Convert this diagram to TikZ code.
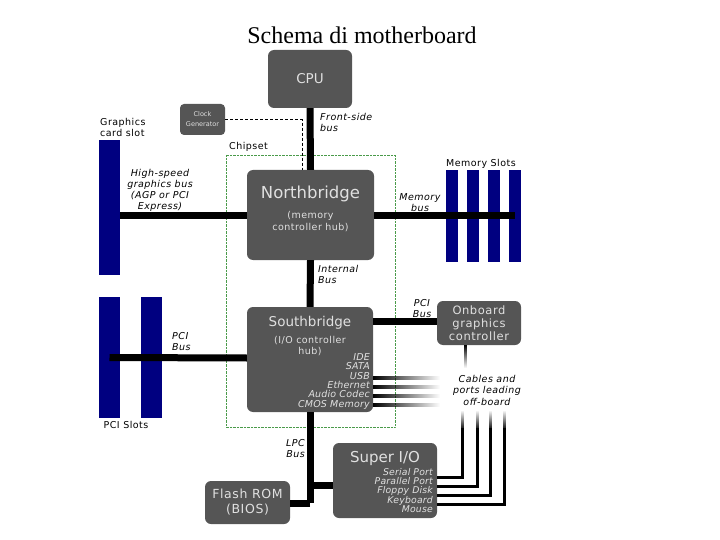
\documentclass[tikz,border=0pt]{standalone}
\usepackage{fontspec}
\setmainfont{DejaVu Sans}
\newfontfamily\titlefont{Liberation Serif}
\usetikzlibrary{fadings}
\definecolor{boxc}{HTML}{555555}
\definecolor{slotc}{HTML}{000080}
\definecolor{chipc}{HTML}{4A9A4A}
\newcommand{\lsp}{\addfontfeature{LetterSpace=5}}
\begin{document}
\begin{tikzpicture}[x=1pt,y=-1pt,
  box/.style={fill=boxc,rounded corners=6pt,draw=none},
  slot/.style={fill=slotc,draw=none},
  bus/.style={line width=7pt},
  thin/.style={line width=3pt},
  bl/.style={font=\fontsize{9.5}{11}\selectfont\itshape\lsp,align=left,inner sep=0},
  pl/.style={font=\fontsize{9.5}{11}\selectfont\lsp,align=left,inner sep=0},
  wt/.style={text=white!88!black,inner sep=0}]
\useasboundingbox (0,0) rectangle (720,540);
\node[font=\titlefont\fontsize{24}{26}\selectfont] (title) at (362,35) {Schema di motherboard};
% chipset
\draw[chipc,densely dotted] (226,155) rectangle (395,427);
\node[pl,anchor=west] (chip) at (229,147) {Chipset};
% boxes
\node[box,minimum width=84pt,minimum height=58pt] (cpu) at (310,79) {};
\node[wt,font=\fontsize{13.5}{14}\selectfont] at (cpu) {CPU};
\node[box,rounded corners=4pt,minimum width=45pt,minimum height=31pt] (clk) at (202.5,119.5) {};
\node[wt,font=\fontsize{6.5}{10}\selectfont,align=center] at (clk) {Clock\\Generator};
\node[box,minimum width=127pt,minimum height=90pt] (nb) at (310.5,215) {};
\node[box,minimum width=126pt,minimum height=105pt] (sb) at (310,359.5) {};
\node[box,minimum width=84pt,minimum height=44pt] (ogc) at (479,323) {};
\node[box,minimum width=104pt,minimum height=75pt] (sio) at (385,480.5) {};
\node[box,minimum width=85pt,minimum height=43pt] (rom) at (247.5,502.5) {};
% slots
\node[slot,minimum width=21pt,minimum height=135pt,inner sep=0] (gslot) at (109.5,207.5) {};
\node[slot,minimum width=21pt,minimum height=121pt,inner sep=0] (p1) at (109.5,357.5) {};
\node[slot,minimum width=21pt,minimum height=121pt,inner sep=0] (p2) at (151.5,357.5) {};
\foreach \i/\x in {1/452,2/473,3/494,4/515}
  \node[slot,minimum width=12pt,minimum height=92pt,inner sep=0] (m\i) at (\x,216) {};
% buses
\draw[bus] (cpu.south) -- (nb.north);
\draw[densely dashed,line width=0.8pt] (clk.east) -- (302,119.5) -- (302,170);
\draw[bus] (gslot.east |- 0,216) -- (nb.west |- 0,216);
\draw[bus] (nb.east |- 0,216) -- (m4.center);
\draw[bus] (nb.south) -- (sb.north);
\draw[bus] (p1.center) -- (sb.west |- 0,358);
\draw[bus] (sb.east |- 0,321) -- (ogc.west |- 0,321);
\draw[bus] (sb.south) -- (310,503) coordinate (lpc);
\draw[bus] (310,485) -- (sio.west |- 0,485);
\draw[bus] (lpc) -- (rom.east |- 0,503);
% fading cables
\foreach \y in {378,387,396,405}
  \fill[black,path fading=east] (373,\y-1.7) rectangle (440,\y+1.7);
\fill[black,path fading=south] (463.5,345) rectangle (466.5,368);
\foreach \x/\y in {462/477,477/486,490/495,504/504}{
  \draw[thin] (sio.east |- 0,\y) -- (\x,\y) -- (\x,428);
  \fill[black,path fading=north] (\x-1.5,410) rectangle (\x+1.5,430);}
% box texts
\node[wt,font=\fontsize{16.5}{18}\selectfont] at (310.5,194) {Northbridge};
\node[wt,font=\fontsize{9.5}{12}\selectfont\lsp,align=center] at (310.5,222) {(memory\\controller hub)};
\node[wt,font=\fontsize{13.5}{14}\selectfont] at (310,323) {Southbridge};
\node[wt,font=\fontsize{9.5}{11.5}\selectfont\lsp,align=center] at (310,346) {(I/O controller\\hub)};
\node[wt,font=\fontsize{9.5}{9.3}\selectfont\itshape\addfontfeature{LetterSpace=2},align=right,anchor=north east] at (370,353.5) {IDE\\SATA\\USB\\Ethernet\\Audio Codec\\CMOS Memory};
\node[wt,font=\fontsize{11.5}{13}\selectfont\lsp,align=center] at (ogc) {Onboard\\graphics\\controller};
\node[wt,font=\fontsize{15}{16}\selectfont] at (385,458) {Super I/O};
\node[wt,font=\fontsize{9.3}{9.1}\selectfont\itshape\addfontfeature{LetterSpace=2},align=right,anchor=north east] at (433,468.5) {Serial Port\\Parallel Port\\Floppy Disk\\Keyboard\\Mouse};
\node[wt,font=\fontsize{12.5}{15}\selectfont\lsp,align=center] at (rom) {Flash ROM\\(BIOS)};
% labels
\node[bl,anchor=north west] at (320,113) {Front-side\\bus};
\node[pl,anchor=north west] at (100,118) {Graphics\\card slot};
\node[bl,align=center] at (160,190) {High-speed\\graphics bus\\(AGP or PCI\\Express)};
\node[pl] at (481,164) {Memory Slots};
\node[bl,align=center] at (420,203) {Memory\\bus};
\node[bl,anchor=north west] at (318,265) {Internal\\Bus};
\node[bl,anchor=north west] at (172,332) {PCI\\Bus};
\node[pl] at (126,425) {PCI Slots};
\node[bl,align=center] at (422,309) {PCI\\Bus};
\node[bl,align=center,font=\fontsize{9.5}{11.5}\selectfont\itshape\lsp] at (487,390) {Cables and\\ports leading\\off-board};
\node[bl,align=right,anchor=north east] at (305,439) {LPC\\Bus};
\end{tikzpicture}
\end{document}
